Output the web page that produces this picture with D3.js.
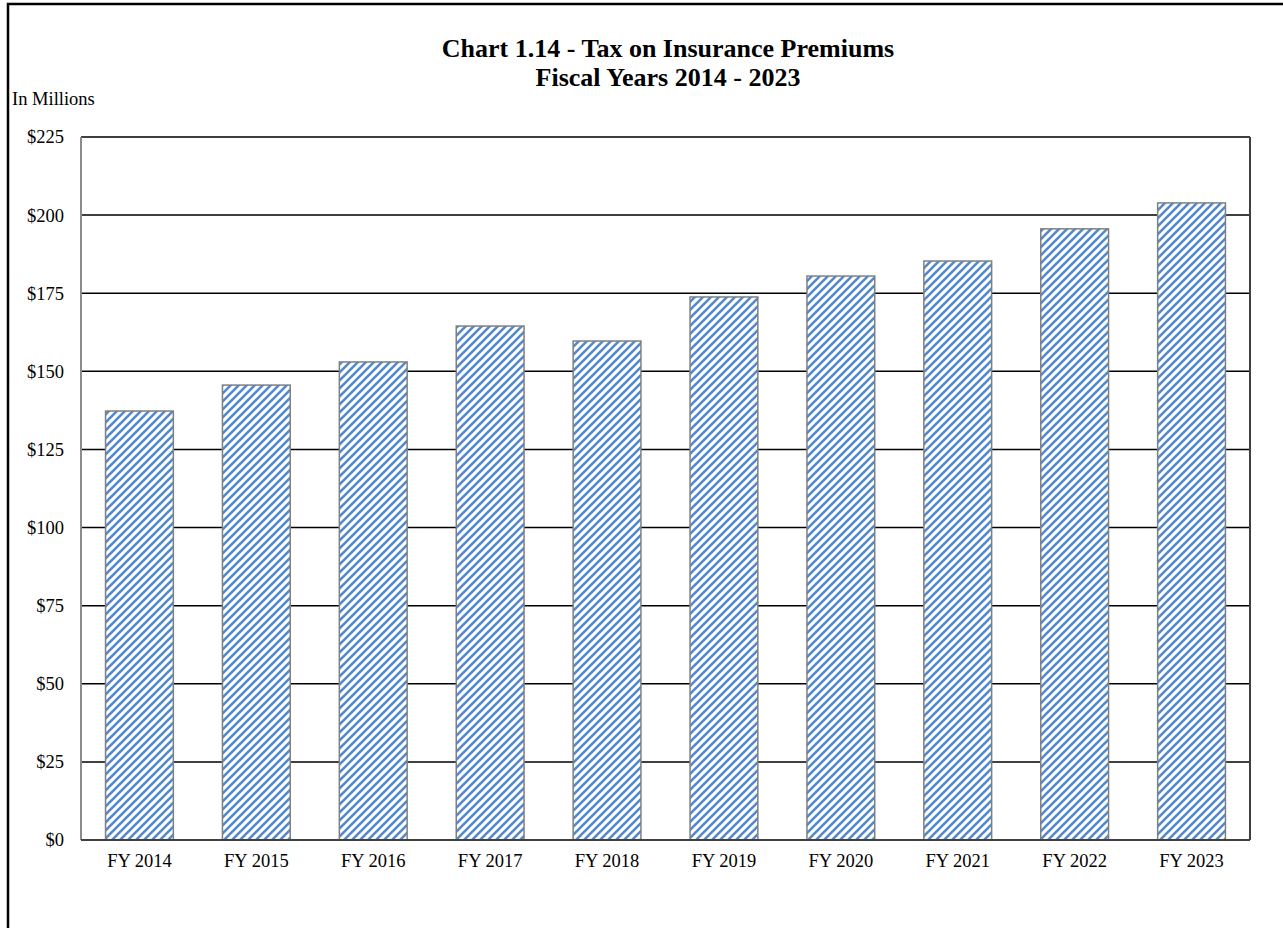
<!DOCTYPE html>
<html>
<head>
<meta charset="utf-8">
<script src="https://cdn.jsdelivr.net/npm/d3@7"></script>
<style>
  body { margin: 0; background: #fff; }
  text { font-family: "Liberation Serif", "Times New Roman", serif; fill: #000; }
</style>
</head>
<body>
<svg id="chart" width="1283" height="928"></svg>
<script>
"use strict";

// data (millions of dollars)
const years = ["FY 2014", "FY 2015", "FY 2016", "FY 2017", "FY 2018",
               "FY 2019", "FY 2020", "FY 2021", "FY 2022", "FY 2023"];
const premiumsTax = [137.3, 145.6, 153.0, 164.5, 159.7, 173.8, 180.5, 185.3, 195.6, 203.9];
const yTicks = [0, 25, 50, 75, 100, 125, 150, 175, 200, 225];

const svg = d3.select("#chart");
const plot = { left: 81, right: 1250, top: 137, bottom: 840 };

// outer frame, only the top and left edges are in view
svg.append("path")
  .attr("d", "M8,940 L8,4 L1300,4")
  .attr("fill", "none")
  .attr("stroke", "#000")
  .attr("stroke-width", 2.5);

// hatch pattern for the bars
const defs = svg.append("defs");
const pat = defs.append("pattern")
  .attr("id", "hatch")
  .attr("patternUnits", "userSpaceOnUse")
  .attr("width", 8)
  .attr("height", 8);
pat.append("rect").attr("width", 8).attr("height", 8).attr("fill", "#fff");
pat.append("path")
  .attr("d", "M-2,2 L2,-2 M0,8 L8,0 M6,10 L10,6")
  .attr("stroke", "#5289cc")
  .attr("stroke-width", 2.6);

const x = d3.scaleBand()
  .domain(years)
  .range([plot.left, plot.right])
  .paddingInner(0.42)
  .paddingOuter(0.21);

const y = d3.scaleLinear()
  .domain([0, 225])
  .range([plot.bottom, plot.top]);

// gridlines
svg.append("g")
  .selectAll("line")
  .data(yTicks.filter(d => d > 0 && d < 225))
  .enter()
  .append("line")
  .attr("x1", plot.left)
  .attr("x2", plot.right)
  .attr("y1", d => y(d))
  .attr("y2", d => y(d))
  .attr("stroke", "#000")
  .attr("stroke-width", 1.5);

// plot frame
svg.append("line")
  .attr("x1", plot.left).attr("x2", plot.right)
  .attr("y1", plot.top).attr("y2", plot.top)
  .attr("stroke", "#404040").attr("stroke-width", 2);
svg.append("line")
  .attr("x1", plot.right).attr("x2", plot.right)
  .attr("y1", plot.top).attr("y2", plot.bottom)
  .attr("stroke", "#404040").attr("stroke-width", 2);
svg.append("line")
  .attr("x1", plot.left).attr("x2", plot.left)
  .attr("y1", plot.top).attr("y2", plot.bottom)
  .attr("stroke", "#8c8c8c").attr("stroke-width", 2);

// bars
svg.append("g")
  .selectAll("rect")
  .data(premiumsTax)
  .enter()
  .append("rect")
  .attr("x", (d, i) => x(years[i]))
  .attr("y", d => y(d))
  .attr("width", x.bandwidth())
  .attr("height", d => y(0) - y(d))
  .attr("fill", "url(#hatch)")
  .attr("stroke", "#808080")
  .attr("stroke-width", 1.5);

// baseline
svg.append("line")
  .attr("x1", plot.left).attr("x2", plot.right)
  .attr("y1", plot.bottom).attr("y2", plot.bottom)
  .attr("stroke", "#404040").attr("stroke-width", 2);

// y axis labels
const yAxis = d3.axisLeft(y)
  .tickValues(yTicks)
  .tickFormat(d => "$" + d)
  .tickSize(0)
  .tickPadding(17);
const gy = svg.append("g")
  .attr("transform", "translate(" + plot.left + ",0)")
  .call(yAxis);
gy.select(".domain").remove();
gy.selectAll("text")
  .style("font-family", "'Liberation Serif', serif")
  .style("font-size", "18.5px")
  .attr("fill", "#000");

// x axis labels
const xAxis = d3.axisBottom(x).tickSize(0).tickPadding(14);
const gx = svg.append("g")
  .attr("transform", "translate(0," + plot.bottom + ")")
  .call(xAxis);
gx.select(".domain").remove();
gx.selectAll("text")
  .style("font-family", "'Liberation Serif', serif")
  .style("font-size", "18.5px")
  .attr("fill", "#000");

// titles
svg.append("text")
  .attr("x", 668).attr("y", 57)
  .attr("text-anchor", "middle")
  .style("font-size", "26px").style("font-weight", "bold")
  .text("Chart 1.14 - Tax on Insurance Premiums");
svg.append("text")
  .attr("x", 668).attr("y", 86)
  .attr("text-anchor", "middle")
  .style("font-size", "26px").style("font-weight", "bold")
  .text("Fiscal Years 2014 - 2023");
svg.append("text")
  .attr("x", 12).attr("y", 105)
  .style("font-size", "18.5px")
  .text("In Millions");
</script>
</body>
</html>
